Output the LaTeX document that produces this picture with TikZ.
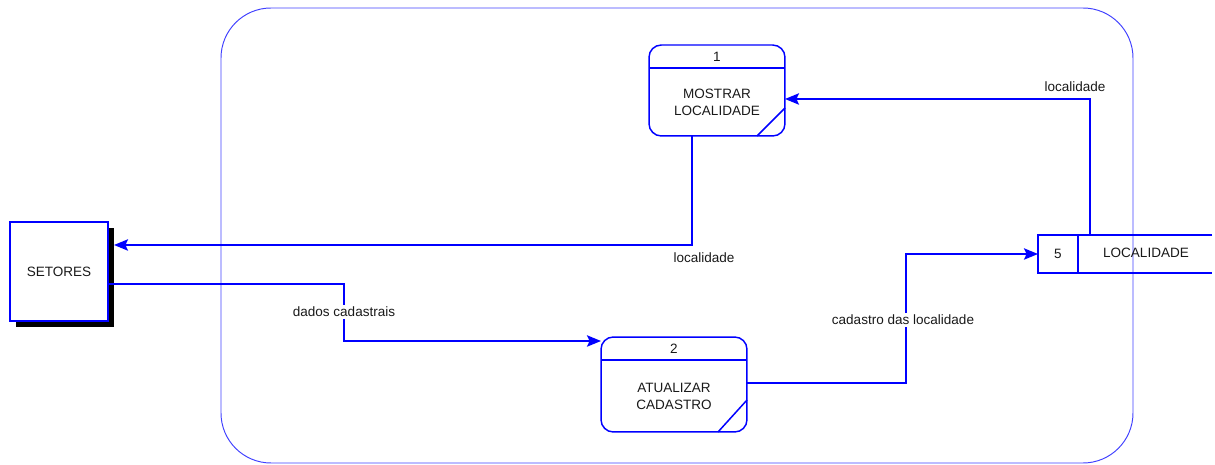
\documentclass[tikz,border=0pt]{standalone}
\usepackage{fontspec}
\setmainfont{Liberation Sans}
\usetikzlibrary{arrows.meta,calc}

\tikzset{
  every node/.style={font=\fontsize{7.7}{9.6}\selectfont,text=black!90},
  flow/.style={draw=blue,line width=0.85pt,-{Stealth[length=8pt,width=6.5pt,inset=1.5pt]}},
  proc/.style={draw=blue,line width=0.85pt,rounded corners=7pt,align=center,inner sep=0pt},
  procline/.style={draw=blue,line width=0.85pt},
  entbox/.style={draw=blue,line width=0.6pt,fill=white,minimum width=1.96cm,minimum height=1.98cm},
  flowlabel/.style={fill=white,inner sep=1pt},
}

\begin{document}
\begin{tikzpicture}[x=0.02cm,y=-0.02cm]
\useasboundingbox (0,0) rectangle (1215,465);
\draw[blue!75,line width=0.55pt,rounded corners=1cm] (221,8) rectangle (1133,463);

\fill[black] (16,228) rectangle (114,327);
\node[entbox] (setores) at (59,271.5) {SETORES};
\coordinate (setin) at (114,245);
\coordinate (setout) at (108,284);

\node[proc,minimum width=2.72cm,minimum height=1.82cm] (p1) at (717,90.5) {};
\draw[procline] (649,68) -- (785,68);
\draw[procline] (785,108) -- (757,136);
\node (p1num) at (717,57) {1};
\node[align=center] (p1txt) at (717,102) {MOSTRAR\\LOCALIDADE};
\coordinate (p1out) at (692,136);
\coordinate (p1in) at (785,99);

\node[proc,minimum width=2.92cm,minimum height=1.9cm] (p2) at (674,384.5) {};
\draw[procline] (601,360) -- (747,360);
\draw[procline] (747,400) -- (718,432);
\node (p2num) at (674,349) {2};
\node[align=center] (p2txt) at (674,396) {ATUALIZAR\\CADASTRO};
\coordinate (p2in) at (601,341);
\coordinate (p2out) at (747,383);

\draw[procline] (1212,235) -- (1038,235) -- (1038,273) -- (1212,273);
\draw[procline] (1078,235) -- (1078,273);
\node (storenum) at (1058,254) {5};
\node (store) at (1146,253) {LOCALIDADE};
\coordinate (storein) at (1038,254);
\coordinate (storeout) at (1090,235);

\draw[flow] (p1out) |- (setin);
\node (lbla) at (704,258) {localidade};

\draw[flow] (setout) -| (344,341) -- (p2in);
\node[flowlabel] (lblb) at (344,312) {dados cadastrais};

\draw[flow] (p2out) -| (906,254) -- (storein);
\node[flowlabel] (lblc) at (903,320) {cadastro das localidade};

\draw[flow] (storeout) |- (p1in);
\node (lbld) at (1075,87) {localidade};
\end{tikzpicture}
\end{document}
